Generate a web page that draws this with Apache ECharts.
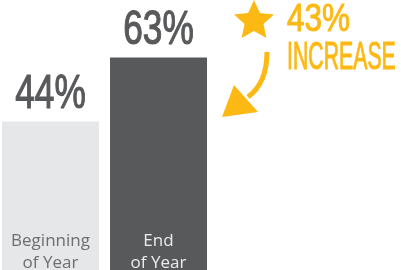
<!DOCTYPE html>
<html>
<head>
<meta charset="utf-8">
<script src="https://cdn.jsdelivr.net/npm/echarts@6/dist/echarts.min.js"></script>
<style>
  html, body { margin: 0; padding: 0; background: #ffffff; }
  #chart { width: 401px; height: 270px; }
</style>
</head>
<body>
<div id="chart"></div>
<script>
const categories = ["Beginning\nof Year", "End\nof Year"];
const values = [44, 63];
const barColors = ["#e6e7e8", "#58595b"];
const labelColors = ["#6d6e71", "#ececec"];
const increaseText = ["43%", "INCREASE"];

const orange = "#fdb913";
const numberFont = "49px 'Liberation Sans'";

const myChart = echarts.init(document.getElementById("chart"));

// star points for the decoration
function starPoints(cx, cy, R, r) {
  const pts = [];
  for (let i = 0; i < 10; i++) {
    const rad = i % 2 === 0 ? R : r;
    const a = -Math.PI / 2 + (i * Math.PI) / 5;
    pts.push([cx + rad * Math.cos(a), cy + rad * Math.sin(a)]);
  }
  return pts;
}

const option = {
  animation: false,
  grid: {
    left: -3.5,
    top: 0,
    width: 216,
    bottom: 0,
    // first bar sits at the very edge, don't let the grid be pushed inside
    outerBoundsMode: "none",
  },
  xAxis: {
    type: "category",
    data: categories.map((c, i) => ({
      value: c,
      textStyle: { color: labelColors[i] },
    })),
    axisLine: { show: false },
    axisTick: { show: false },
    axisLabel: {
      inside: true,
      margin: -4,
      fontFamily: "Open Sans",
      fontSize: 17,
      lineHeight: 22,
      interval: 0,
    },
    z: 10,
  },
  yAxis: {
    type: "value",
    min: 0,
    max: 80,
    show: false,
  },
  series: [
    {
      type: "bar",
      barWidth: 97,
      data: values.map((v, i) => ({
        value: v,
        itemStyle: { color: barColors[i] },
      })),
    },
    {
      // condensed value labels above the bars
      type: "custom",
      data: values.map((v, i) => [i, v]),
      renderItem: function (params, api) {
        const p = api.coord([api.value(0), api.value(1)]);
        return {
          type: "text",
          x: p[0],
          y: p[1] - 27,
          scaleX: 0.72,
          style: {
            text: api.value(1) + "%",
            font: numberFont,
            fill: "#58595b",
            stroke: "#58595b",
            lineWidth: 1.2,
            align: "center",
            verticalAlign: "middle",
          },
        };
      },
    },
  ],
  graphic: [
    {
      type: "polygon",
      shape: { points: starPoints(254, 21, 21, 10) },
      style: { fill: orange },
    },
    {
      type: "bezierCurve",
      shape: { x1: 267, y1: 52, x2: 248, y2: 97, cpx1: 267, cpy1: 83 },
      style: { stroke: orange, lineWidth: 5, fill: null },
    },
    {
      type: "polygon",
      shape: { points: [[234, 85], [258, 112], [222, 117]] },
      style: { fill: orange },
    },
    {
      type: "text",
      x: 287,
      y: 21,
      scaleX: 0.83,
      style: {
        text: increaseText[0],
        font: "38px 'Liberation Sans'",
        fill: orange,
        stroke: orange,
        lineWidth: 1,
        textVerticalAlign: "middle",
      },
    },
    {
      type: "text",
      x: 287,
      y: 59,
      scaleX: 0.56,
      style: {
        text: increaseText[1],
        font: "38px 'Liberation Sans'",
        fill: orange,
        stroke: orange,
        lineWidth: 1,
        textVerticalAlign: "middle",
      },
    },
  ],
};

myChart.setOption(option);
</script>
</body>
</html>
